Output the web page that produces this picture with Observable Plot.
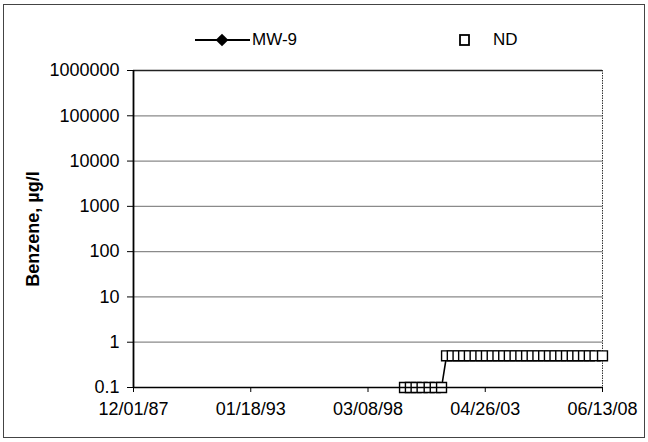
<!DOCTYPE html>
<html>
<head>
<meta charset="utf-8">
<script src="https://cdn.jsdelivr.net/npm/d3@7"></script>
<script src="https://cdn.jsdelivr.net/npm/@observablehq/plot@0.6"></script>
<style>
  html, body { margin: 0; padding: 0; background: #fff; }
  #wrap { position: relative; width: 648px; height: 442px; overflow: hidden; font-family: "Liberation Sans", Arial, sans-serif; }
  #frame { position: absolute; left: 3px; top: 4px; width: 640px; height: 432px; border: 1px solid #444; pointer-events: none; }
  #legend { position: absolute; left: 0; top: 0; width: 648px; height: 55px; }
  #legend svg { position: absolute; left: 0; top: 0; }
  #legend .lbl { position: absolute; font-size: 17px; line-height: 17px; color: #000; }
  #chart { position: absolute; left: 0; top: 55px; }
</style>
</head>
<body>
<div id="wrap">
  <div id="legend"></div>
  <div id="chart"></div>
  <div id="frame"></div>
</div>
<script>
// ---- data ----
const seriesNames = ["MW-9", "ND"];
const ndDates = [
  "1999-10-13", "2000-01-15", "2000-04-15", "2000-07-20", "2000-11-10", "2001-02-15", "2001-05-27",
  "2001-08-15", "2001-11-15", "2002-02-15", "2002-05-15", "2002-08-15", "2002-11-15",
  "2003-02-15", "2003-05-15", "2003-08-15", "2003-11-15", "2004-02-15", "2004-05-15",
  "2004-08-15", "2004-11-15", "2005-02-15", "2005-05-15", "2005-08-15", "2005-11-15",
  "2006-02-15", "2006-05-15", "2006-08-15", "2006-11-15", "2007-02-15", "2007-05-15",
  "2007-08-15", "2007-11-15", "2008-02-15", "2008-06-13"
];
const ndValues = [
  0.1, 0.1, 0.1, 0.1, 0.1, 0.1, 0.1,
  0.5, 0.5, 0.5, 0.5, 0.5, 0.5,
  0.5, 0.5, 0.5, 0.5, 0.5, 0.5,
  0.5, 0.5, 0.5, 0.5, 0.5, 0.5,
  0.5, 0.5, 0.5, 0.5, 0.5, 0.5,
  0.5, 0.5, 0.5, 0.5
];
const xTickDates = ["1987-12-01", "1993-01-18", "1998-03-08", "2003-04-26", "2008-06-13"];
const xTickLabels = ["12/01/87", "01/18/93", "03/08/98", "04/26/03", "06/13/08"];
const yTickValues = [0.1, 1, 10, 100, 1000, 10000, 100000, 1000000];
const yTickLabels = ["0.1", "1", "10", "100", "1000", "10000", "100000", "1000000"];
const yTitle = "Benzene, \u00b5g/l";

// ---- build table ----
const nd = ndDates.map((d, i) => ({date: new Date(d + "T00:00:00Z"), value: ndValues[i]}));
const xTicks = xTickDates.map(d => new Date(d + "T00:00:00Z"));
const xFmt = new Map(xTicks.map((d, i) => [+d, xTickLabels[i]]));
const yFmt = new Map(yTickValues.map((v, i) => [v, yTickLabels[i]]));

const chart = Plot.plot({
  width: 648,
  height: 387,
  marginLeft: 133,
  marginRight: 46,
  marginTop: 15,
  marginBottom: 55,
  style: {fontFamily: "'Liberation Sans', Arial, sans-serif", fontSize: "18px", color: "#000", background: "transparent", overflow: "visible"},
  x: {type: "utc", domain: [xTicks[0], xTicks[xTicks.length - 1]]},
  y: {type: "log", domain: [yTickValues[0], yTickValues[yTickValues.length - 1]]},
  marks: [
    Plot.ruleY(yTickValues.slice(1, -1), {stroke: "#8a8a8a", strokeWidth: 1.2}),
    Plot.ruleY(yTickValues.slice(-1), {stroke: "#222", strokeWidth: 1.5}),
    Plot.ruleX(xTicks.slice(-1), {stroke: "#333", strokeWidth: 1, strokeDasharray: "1.5,1"}),
    Plot.line(nd, {x: "date", y: "value", stroke: "#000", strokeWidth: 1.6}),
    Plot.dot(nd, {x: "date", y: "value", symbol: "square", r: 5.6, fill: "#fff", stroke: "#000", strokeWidth: 1.4}),
    Plot.axisY({ticks: yTickValues, tickFormat: v => yFmt.get(v), tickSize: 6, tickPadding: 8, label: null, stroke: "#000", fontSize: 18}),
    Plot.axisX({ticks: xTicks, tickFormat: d => xFmt.get(+d), tickSize: 5, tickPadding: 10, label: null, stroke: "#000", fontSize: 18}),
    Plot.ruleX(xTicks.slice(0, 1), {stroke: "#000", strokeWidth: 1.8}),
    Plot.ruleY(yTickValues.slice(0, 1), {stroke: "#000", strokeWidth: 1.6}),
    Plot.text([yTitle], {frameAnchor: "left", textAnchor: "middle", rotate: -90, dx: -100, fontWeight: "bold", fontSize: 18, fill: "#000"})
  ]
});
document.getElementById("chart").appendChild(chart);

// ---- legend (HTML/SVG above the chart) ----
const legend = document.getElementById("legend");
const ns = "http://www.w3.org/2000/svg";
const lsvg = document.createElementNS(ns, "svg");
lsvg.setAttribute("width", 648);
lsvg.setAttribute("height", 55);
const ly = 40;
const ln = document.createElementNS(ns, "line");
ln.setAttribute("x1", 195); ln.setAttribute("x2", 250);
ln.setAttribute("y1", ly); ln.setAttribute("y2", ly);
ln.setAttribute("stroke", "#000"); ln.setAttribute("stroke-width", 2);
lsvg.appendChild(ln);
const dm = document.createElementNS(ns, "rect");
dm.setAttribute("x", -4.5); dm.setAttribute("y", -4.5);
dm.setAttribute("width", 9); dm.setAttribute("height", 9);
dm.setAttribute("transform", `translate(222,${ly}) rotate(45)`);
dm.setAttribute("fill", "#000");
lsvg.appendChild(dm);
const sq = document.createElementNS(ns, "rect");
sq.setAttribute("x", 460); sq.setAttribute("y", ly - 5);
sq.setAttribute("width", 9); sq.setAttribute("height", 10);
sq.setAttribute("fill", "#fff"); sq.setAttribute("stroke", "#000"); sq.setAttribute("stroke-width", 1.8);
lsvg.appendChild(sq);
legend.appendChild(lsvg);
const t1 = document.createElement("div");
t1.className = "lbl"; t1.textContent = seriesNames[0];
t1.style.left = "252px"; t1.style.top = (ly - 9) + "px";
legend.appendChild(t1);
const t2 = document.createElement("div");
t2.className = "lbl"; t2.textContent = seriesNames[1];
t2.style.left = "493px"; t2.style.top = (ly - 9) + "px";
legend.appendChild(t2);
</script>
</body>
</html>
